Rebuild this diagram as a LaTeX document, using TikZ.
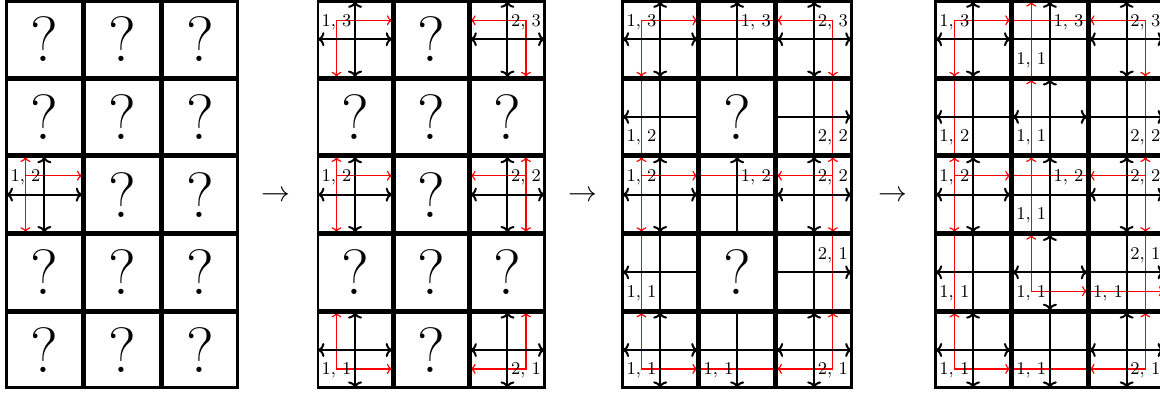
\documentclass[tikz,border=0pt]{standalone}
\usepackage{fontspec}
\usetikzlibrary{arrows.meta}
\tikzset{
  cellb/.style={line width=1.4pt},
  bk/.style={line width=1pt},
  rd/.style={red, line width=0.6pt, >={To[length=2.6pt,width=5pt]}},
  >={To[length=3.2pt,width=7pt]},
  lab/.style={font=\fontsize{9}{10}\selectfont, inner sep=0pt, text depth=0pt},
  qmk/.style={font=\fontsize{32}{36}\selectfont, inner sep=0pt},
  stepto/.style={font=\fontsize{15}{18}\selectfont, inner sep=0pt},
}
% one cell: #1 grid left, #2 column pitch, #3 column, #4 row, #5 content
\newcommand\gcell[5]{%
  \pgfmathsetmacro\mycellx{#1+#3*#2}%
  \pgfmathsetmacro\mycelly{1.4+#4*77.7}%
  \pgfmathsetmacro\mycellw{(#2-2.1)*0.5}%
  \begin{scope}[shift={(\mycellx,\mycelly)},x=\mycellw pt,y=-37.8pt]
    #5
    \draw[cellb] (0,0) rectangle (1,1);
  \end{scope}}
\newcommand\qm[1]{\node[qmk] (#1) at (.5,.5) {?};}
\newcommand\lab[4]{\node[lab] (#1) at (#2,#3) {#4};}
\newcommand\bX{\draw[bk,<->] (0,.5)--(1,.5); \draw[bk,<->] (.5,0)--(.5,1);}
\newcommand\bHp{\draw[bk] (0,.5)--(1,.5);}
\newcommand\bVp{\draw[bk] (.5,0)--(.5,1);}
\newcommand\bVu{\draw[bk,->] (.5,1)--(.5,0);}
\newcommand\bVd{\draw[bk,->] (.5,0)--(.5,1);}
\newcommand\bHl{\draw[bk,->] (1,.5)--(0,.5);}
\newcommand\bHr{\draw[bk,->] (0,.5)--(1,.5);}
\newcommand\bHb{\draw[bk,<->] (0,.5)--(1,.5);}
\begin{document}
\begin{tikzpicture}[x=0.5pt,y=-0.5pt]
\useasboundingbox (0,0) rectangle (1160,393);
\clip (0,0) rectangle (1160,393);
% ---------------- grid 1 ----------------
\def\L{6.5}\def\P{77.8}
\gcell{\L}{\P}{0}{0}{\qm{a00}}
\gcell{\L}{\P}{1}{0}{\qm{a10}}
\gcell{\L}{\P}{2}{0}{\qm{a20}}
\gcell{\L}{\P}{0}{1}{\qm{a01}}
\gcell{\L}{\P}{1}{1}{\qm{a11}}
\gcell{\L}{\P}{2}{1}{\qm{a21}}
\gcell{\L}{\P}{0}{2}{\draw[rd,<->] (.25,0)--(.25,1); \draw[rd,->] (.25,.25)--(1,.25); \bX \lab{a02l}{.25}{.25}{1, 2}}
\gcell{\L}{\P}{1}{2}{\qm{a12}}
\gcell{\L}{\P}{2}{2}{\qm{a22}}
\gcell{\L}{\P}{0}{3}{\qm{a03}}
\gcell{\L}{\P}{1}{3}{\qm{a13}}
\gcell{\L}{\P}{2}{3}{\qm{a23}}
\gcell{\L}{\P}{0}{4}{\qm{a04}}
\gcell{\L}{\P}{1}{4}{\qm{a14}}
\gcell{\L}{\P}{2}{4}{\qm{a24}}
% ---------------- grid 2 ----------------
\def\L{318}\def\P{76.2}
\gcell{\L}{\P}{0}{0}{\draw[rd,<->] (1,.25)--(.25,.25)--(.25,1); \bX \lab{b00l}{.25}{.25}{1, 3}}
\gcell{\L}{\P}{1}{0}{\qm{b10}}
\gcell{\L}{\P}{2}{0}{\draw[rd,<->] (0,.25)--(.75,.25)--(.75,1); \bX \lab{b20l}{.75}{.25}{2, 3}}
\gcell{\L}{\P}{0}{1}{\qm{b01}}
\gcell{\L}{\P}{1}{1}{\qm{b11}}
\gcell{\L}{\P}{2}{1}{\qm{b21}}
\gcell{\L}{\P}{0}{2}{\draw[rd,<->] (.25,0)--(.25,1); \draw[rd,->] (.25,.25)--(1,.25); \bX \lab{b02l}{.25}{.25}{1, 2}}
\gcell{\L}{\P}{1}{2}{\qm{b12}}
\gcell{\L}{\P}{2}{2}{\draw[rd,<->] (.75,0)--(.75,1); \draw[rd,->] (.75,.25)--(0,.25); \bX \lab{b22l}{.75}{.25}{2, 2}}
\gcell{\L}{\P}{0}{3}{\qm{b03}}
\gcell{\L}{\P}{1}{3}{\qm{b13}}
\gcell{\L}{\P}{2}{3}{\qm{b23}}
\gcell{\L}{\P}{0}{4}{\draw[rd,<->] (.25,0)--(.25,.75)--(1,.75); \bX \lab{b04l}{.25}{.75}{1, 1}}
\gcell{\L}{\P}{1}{4}{\qm{b14}}
\gcell{\L}{\P}{2}{4}{\draw[rd,<->] (.75,0)--(.75,.75)--(0,.75); \bX \lab{b24l}{.75}{.75}{2, 1}}
% ---------------- grid 3 ----------------
\def\L{622.7}\def\P{77.0}
\gcell{\L}{\P}{0}{0}{\draw[rd,<->] (1,.25)--(.25,.25)--(.25,1); \bX \lab{c00l}{.25}{.25}{1, 3}}
\gcell{\L}{\P}{1}{0}{\draw[rd] (0,.25)--(1,.25); \bVu \bHp \lab{c10l}{.75}{.25}{1, 3}}
\gcell{\L}{\P}{2}{0}{\draw[rd,<->] (0,.25)--(.75,.25)--(.75,1); \bX \lab{c20l}{.75}{.25}{2, 3}}
\gcell{\L}{\P}{0}{1}{\draw[rd] (.25,0)--(.25,1); \bVp \bHl \lab{c01l}{.25}{.75}{1, 2}}
\gcell{\L}{\P}{1}{1}{\qm{c11}}
\gcell{\L}{\P}{2}{1}{\draw[rd] (.75,0)--(.75,1); \bVp \bHr \lab{c21l}{.75}{.75}{2, 2}}
\gcell{\L}{\P}{0}{2}{\draw[rd,<->] (.25,0)--(.25,1); \draw[rd,->] (.25,.25)--(1,.25); \bX \lab{c02l}{.25}{.25}{1, 2}}
\gcell{\L}{\P}{1}{2}{\draw[rd] (0,.25)--(1,.25); \bVu \bHp \lab{c12l}{.75}{.25}{1, 2}}
\gcell{\L}{\P}{2}{2}{\draw[rd,<->] (.75,0)--(.75,1); \draw[rd,->] (.75,.25)--(0,.25); \bX \lab{c22l}{.75}{.25}{2, 2}}
\gcell{\L}{\P}{0}{3}{\draw[rd] (.25,0)--(.25,1); \bVp \bHl \lab{c03l}{.25}{.75}{1, 1}}
\gcell{\L}{\P}{1}{3}{\qm{c13}}
\gcell{\L}{\P}{2}{3}{\draw[rd] (.75,0)--(.75,1); \bVp \bHr \lab{c23l}{.75}{.25}{2, 1}}
\gcell{\L}{\P}{0}{4}{\draw[rd,<->] (.25,0)--(.25,.75)--(1,.75); \bX \lab{c04l}{.25}{.75}{1, 1}}
\gcell{\L}{\P}{1}{4}{\draw[rd] (0,.75)--(1,.75); \bVd \bHp \lab{c14l}{.25}{.75}{1, 1}}
\gcell{\L}{\P}{2}{4}{\draw[rd,<->] (.75,0)--(.75,.75)--(0,.75); \bX \lab{c24l}{.75}{.75}{2, 1}}
% ---------------- grid 4 ----------------
\def\L{935.7}\def\P{76.8}
\gcell{\L}{\P}{0}{0}{\draw[rd,<->] (1,.25)--(.25,.25)--(.25,1); \bX \lab{d00l}{.25}{.25}{1, 3}}
\gcell{\L}{\P}{1}{0}{\draw[rd] (0,.25)--(1,.25); \draw[rd,->] (.25,1)--(.25,0); \bVu \bHp \lab{d10l}{.75}{.25}{1, 3} \lab{d10m}{.25}{.75}{1, 1}}
\gcell{\L}{\P}{2}{0}{\draw[rd,<->] (0,.25)--(.75,.25)--(.75,1); \bX \lab{d20l}{.75}{.25}{2, 3}}
\gcell{\L}{\P}{0}{1}{\draw[rd] (.25,0)--(.25,1); \bVp \bHl \lab{d01l}{.25}{.75}{1, 2}}
\gcell{\L}{\P}{1}{1}{\draw[rd,->] (.25,1)--(.25,0); \bVu \bHb \lab{d11l}{.25}{.75}{1, 1}}
\gcell{\L}{\P}{2}{1}{\draw[rd] (.75,0)--(.75,1); \bVp \bHr \lab{d21l}{.75}{.75}{2, 2}}
\gcell{\L}{\P}{0}{2}{\draw[rd,<->] (.25,0)--(.25,1); \draw[rd,->] (.25,.25)--(1,.25); \bX \lab{d02l}{.25}{.25}{1, 2}}
\gcell{\L}{\P}{1}{2}{\draw[rd] (0,.25)--(1,.25); \draw[rd,->] (.25,1)--(.25,0); \bVu \bHp \lab{d12l}{.75}{.25}{1, 2} \lab{d12m}{.25}{.75}{1, 1}}
\gcell{\L}{\P}{2}{2}{\draw[rd,<->] (.75,0)--(.75,1); \draw[rd,->] (.75,.25)--(0,.25); \bX \lab{d22l}{.75}{.25}{2, 2}}
\gcell{\L}{\P}{0}{3}{\draw[rd] (.25,0)--(.25,1); \bVp \bHl \lab{d03l}{.25}{.75}{1, 1}}
\gcell{\L}{\P}{1}{3}{\draw[rd,<->] (.25,0)--(.25,.75)--(1,.75); \bX \lab{d13l}{.25}{.75}{1, 1}}
\gcell{\L}{\P}{2}{3}{\draw[rd] (.75,0)--(.75,1); \draw[rd,->] (0,.75)--(1,.75); \bVp \bHr \lab{d23l}{.75}{.25}{2, 1} \lab{d23m}{.25}{.75}{1, 1}}
\gcell{\L}{\P}{0}{4}{\draw[rd,<->] (.25,0)--(.25,.75)--(1,.75); \bX \lab{d04l}{.25}{.75}{1, 1}}
\gcell{\L}{\P}{1}{4}{\draw[rd] (0,.75)--(1,.75); \bVd \bHp \lab{d14l}{.25}{.75}{1, 1}}
\gcell{\L}{\P}{2}{4}{\draw[rd,<->] (.75,0)--(.75,.75)--(0,.75); \bX \lab{d24l}{.75}{.75}{2, 1}}
% ---------------- arrows between grids ----------------
\node[stepto] (s1) at (276,196) {$\rightarrow$};
\node[stepto] (s2) at (583,196) {$\rightarrow$};
\node[stepto] (s3) at (893,196) {$\rightarrow$};
\end{tikzpicture}
\end{document}
